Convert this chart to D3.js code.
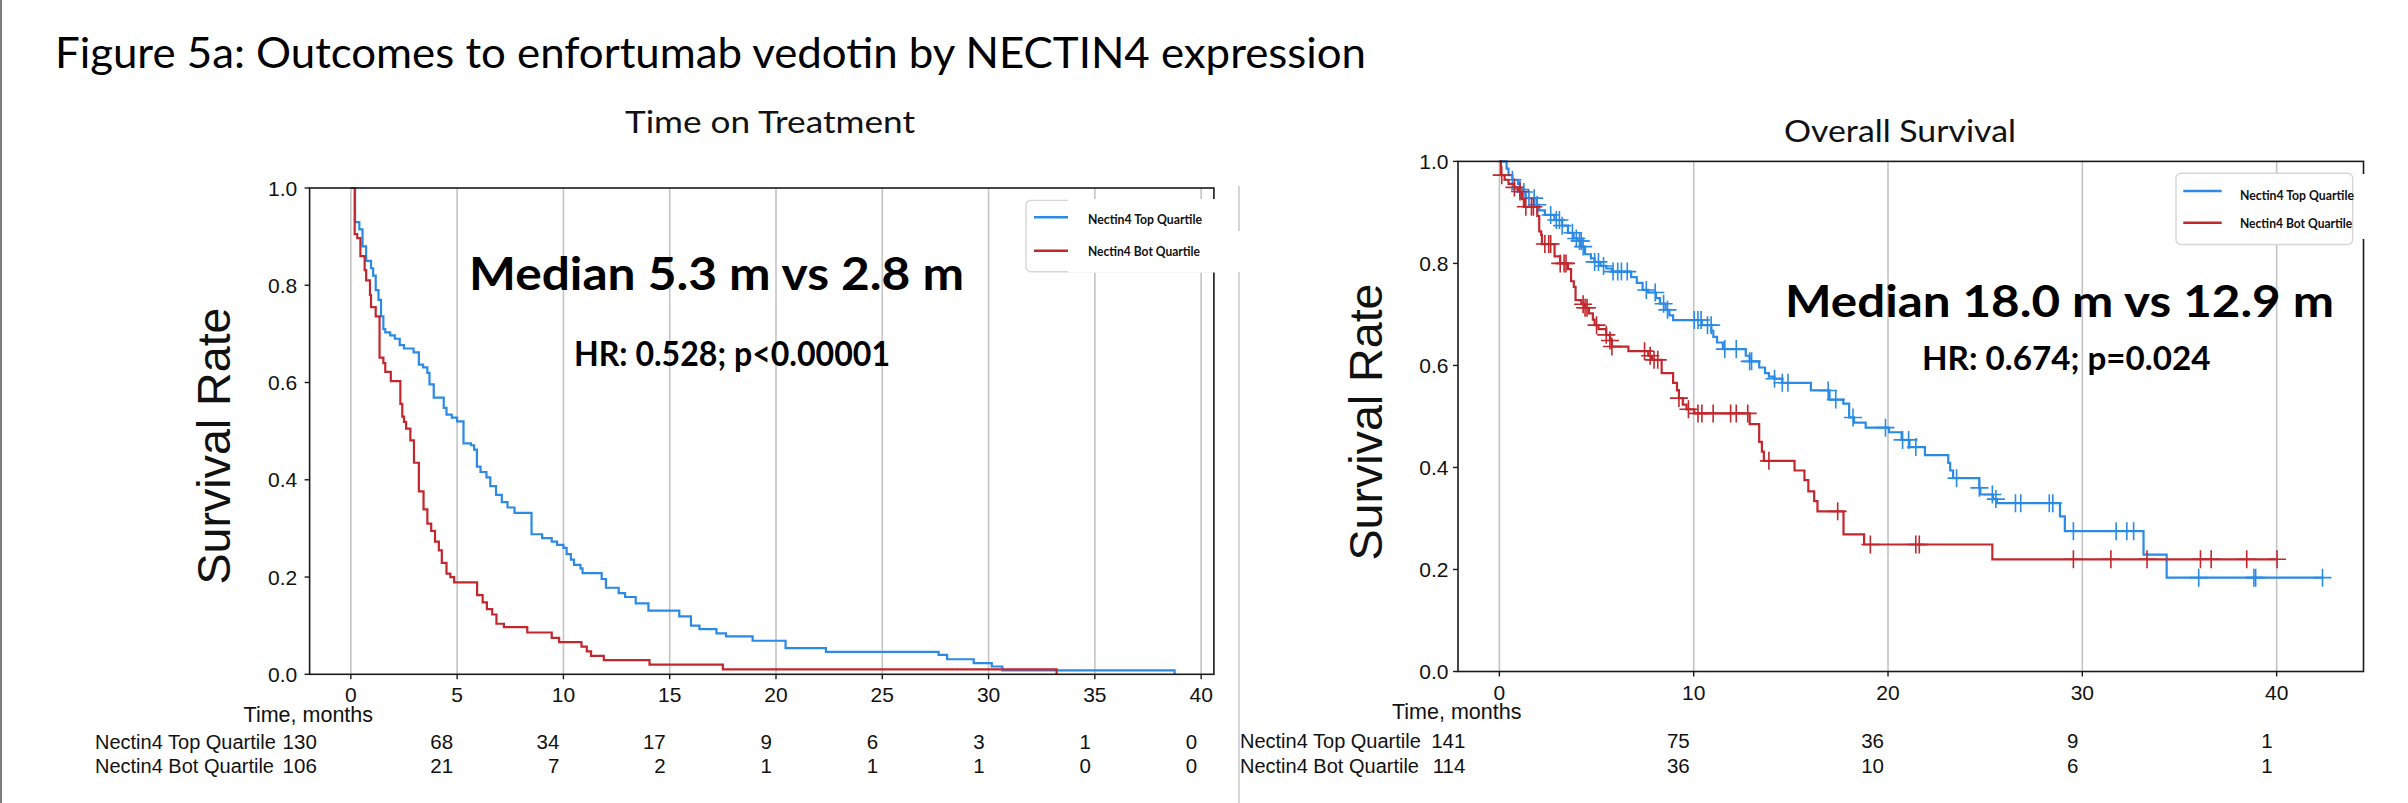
<!DOCTYPE html>
<html><head><meta charset="utf-8">
<script src="https://cdn.jsdelivr.net/npm/d3@7"></script>
<style>body{margin:0;background:#fff}svg{display:block}</style>
</head><body>
<svg id="c" width="2408" height="803"></svg>
<script>
// ---------------- DATA ----------------
const seriesNames = ["Nectin4 Top Quartile", "Nectin4 Bot Quartile"];
const yTicks = [0, 0.2, 0.4, 0.6, 0.8, 1.0];

// Time on Treatment
const totTicks = [0, 5, 10, 15, 20, 25, 30, 35, 40];
const totTopRisk = [130, 68, 34, 17, 9, 6, 3, 1, 0];
const totBotRisk = [106, 21, 7, 2, 1, 1, 1, 0, 0];
const totTopT = [0.2,0.4,0.55,0.72,0.95,1.05,1.17,1.3,1.42,1.53,1.62,1.85,2.07,2.3,2.5,2.95,3.2,3.4,3.6,3.7,3.9,4.37,4.5,4.75,5.0,5.3,5.65,5.8,5.93,6.1,6.38,6.56,6.83,7.1,7.37,7.7,8.5,9.0,9.45,9.7,10.0,10.15,10.35,10.5,10.8,10.9,11.8,12.0,12.6,12.9,13.4,14.0,15.45,16.0,16.4,17.2,17.65,18.9,20.45,22.35,27.65,28.05,29.3,30.15,30.65,38.75];
const totTopS = [0.93,0.915,0.88,0.85,0.835,0.82,0.79,0.77,0.736,0.71,0.703,0.697,0.69,0.677,0.67,0.662,0.637,0.631,0.62,0.596,0.569,0.548,0.534,0.528,0.52,0.475,0.471,0.462,0.427,0.416,0.405,0.387,0.369,0.354,0.343,0.332,0.288,0.28,0.273,0.266,0.26,0.247,0.236,0.225,0.218,0.208,0.196,0.178,0.167,0.159,0.146,0.131,0.119,0.1,0.093,0.084,0.078,0.069,0.054,0.046,0.04,0.031,0.023,0.016,0.008,0.0];
const totBotT = [0.18,0.3,0.45,0.65,0.72,0.9,0.95,1.17,1.35,1.53,1.62,1.88,2.33,2.42,2.5,2.6,2.8,2.97,3.2,3.42,3.6,3.78,3.96,4.14,4.28,4.5,4.68,4.86,5.94,6.2,6.4,6.65,6.85,7.2,8.3,9.45,9.8,10.85,11.1,11.3,11.9,14.05,17.5,33.2];
const totBotS = [0.905,0.897,0.86,0.831,0.81,0.78,0.755,0.736,0.651,0.64,0.622,0.603,0.556,0.53,0.519,0.505,0.481,0.435,0.376,0.339,0.31,0.295,0.273,0.255,0.229,0.207,0.2,0.189,0.163,0.148,0.134,0.123,0.104,0.097,0.086,0.075,0.066,0.057,0.047,0.038,0.029,0.02,0.01,0.0];
const totTopEnd = 38.75, totBotEnd = 33.2;

// Overall Survival
const osTicks = [0, 10, 20, 30, 40];
const osTopRisk = [141, 75, 36, 9, 1];
const osBotRisk = [114, 36, 10, 6, 1];
const osTopT = [0.37,0.47,0.67,0.96,1.06,1.26,1.36,1.91,2.05,2.34,2.83,3.23,3.53,3.82,4.02,4.22,4.41,4.71,4.9,5.2,5.5,5.79,6.78,7.07,7.37,7.66,8.06,8.26,8.55,8.75,8.94,10.42,10.91,11.01,11.2,11.5,12.68,12.88,13.37,13.67,13.87,14.16,14.56,16.03,16.99,17.7,18.0,18.25,18.85,20.05,20.7,21.1,21.9,23.1,23.2,23.35,24.7,24.75,25.4,25.6,28.85,29.1,33.15,34.34];
const osTopS = [0.986,0.973,0.964,0.956,0.945,0.94,0.928,0.915,0.904,0.895,0.885,0.874,0.86,0.849,0.844,0.833,0.818,0.81,0.803,0.795,0.79,0.784,0.773,0.762,0.748,0.743,0.732,0.721,0.709,0.698,0.689,0.679,0.668,0.656,0.645,0.632,0.619,0.608,0.596,0.585,0.578,0.574,0.566,0.551,0.533,0.525,0.498,0.488,0.478,0.469,0.454,0.44,0.424,0.409,0.394,0.379,0.36,0.347,0.338,0.33,0.304,0.275,0.229,0.184];
const osTopCensor = [0.67,1.06,1.26,1.52,1.79,1.95,2.64,2.93,3.09,3.23,3.76,3.96,4.12,4.21,4.31,4.9,5.1,5.36,5.85,6.09,6.28,6.58,7.56,8.02,8.45,8.65,10.03,10.22,10.38,10.71,10.9,11.6,12.19,12.88,12.98,14.16,14.56,14.85,16.92,17.31,18.2,19.87,20.75,21.06,21.43,23.53,24.7,25.37,25.55,26.56,26.83,28.3,28.48,29.54,31.74,32.29,32.64,35.99,38.83,38.92,42.36];
const osBotT = [0.08,0.27,0.47,0.77,0.96,1.16,1.26,1.95,2.05,2.15,2.19,2.84,3.13,3.53,3.69,3.83,3.92,4.22,4.41,4.61,4.81,4.9,5.1,5.5,5.69,5.79,6.64,7.66,7.86,8.35,8.94,9.14,9.24,9.44,9.63,10.03,12.88,13.37,13.51,13.61,15.19,15.7,15.9,16.2,16.37,17.71,18.77,25.37];
const osBotS = [0.973,0.964,0.956,0.949,0.941,0.926,0.911,0.893,0.863,0.856,0.838,0.814,0.8,0.789,0.765,0.754,0.728,0.72,0.713,0.702,0.69,0.679,0.671,0.66,0.649,0.637,0.628,0.619,0.611,0.585,0.566,0.551,0.536,0.523,0.514,0.506,0.485,0.45,0.431,0.413,0.394,0.375,0.353,0.334,0.314,0.269,0.249,0.22];
const osBotCensor = [0.12,0.77,1.06,1.36,1.65,1.75,2.34,2.54,2.64,3.13,3.33,3.43,4.31,4.41,4.51,5.0,5.5,5.69,5.79,7.47,7.76,7.96,8.15,9.24,9.73,10.22,10.42,11.0,11.9,12.19,12.78,13.87,17.41,19.09,21.43,21.61,29.54,31.47,33.33,36.08,36.63,38.46,40.02];
const osTopEnd = 42.4, osBotEnd = 40.02;

// ---------------- DRAW ----------------
const BLUE = "#2a8ae6", RED = "#c1272d";
const svg = d3.select("#c");
svg.append("rect").attr("width", 2408).attr("height", 803).attr("fill", "#fff");

function survAt(T, S, t) {
  let s = 1;
  for (let i = 0; i < T.length; i++) { if (T[i] <= t) s = S[i]; else break; }
  return s;
}
function stepPoints(T, S, end) {
  const pts = [[0, 1]];
  T.forEach((t, i) => pts.push([t, S[i]]));
  pts.push([end, S[S.length - 1]]);
  return pts;
}

function panel(cfg) {
  const g = svg.append("g");
  const x = d3.scaleLinear().domain(cfg.xDom).range([cfg.left, cfg.right]);
  const y = d3.scaleLinear().domain([0, 1]).range([cfg.bottom, cfg.top]);

  // gridlines
  g.selectAll(".grid").data(cfg.ticks).join("line")
    .attr("x1", d => x(d)).attr("x2", d => x(d))
    .attr("y1", cfg.top).attr("y2", cfg.bottom)
    .attr("stroke", "#c4c4c4").attr("stroke-width", 1.6);

  // curves
  const line = d3.line().x(d => x(d[0])).y(d => y(d[1])).curve(d3.curveStepAfter);
  cfg.curves.forEach(c => {
    g.append("path").attr("d", line(stepPoints(c.T, c.S, c.end)))
      .attr("fill", "none").attr("stroke", c.color).attr("stroke-width", 2.2);
    if (c.censor) {
      const m = 9;
      g.append("g").selectAll("path").data(c.censor).join("path")
        .attr("d", d => {
          const cx = x(d), cy = y(survAt(c.T, c.S, d));
          return `M${cx - m},${cy}H${cx + m}M${cx},${cy - m}V${cy + m}`;
        })
        .attr("stroke", c.color).attr("stroke-width", 1.6).attr("fill", "none");
    }
  });

  // spines
  g.append("rect").attr("x", cfg.left).attr("y", cfg.top)
    .attr("width", cfg.right - cfg.left).attr("height", cfg.bottom - cfg.top)
    .attr("fill", "none").attr("stroke", "#1a1a1a").attr("stroke-width", 1.6);

  // y ticks
  yTicks.forEach(v => {
    g.append("line").attr("x1", cfg.left - 5).attr("x2", cfg.left)
      .attr("y1", y(v)).attr("y2", y(v)).attr("stroke", "#1a1a1a").attr("stroke-width", 1.4);
    g.append("text").attr("x", cfg.left - cfg.yLabGap).attr("y", y(v)).attr("dy", "0.36em")
      .attr("text-anchor", "end").attr("font-family", "Liberation Sans, Arial, sans-serif")
      .attr("font-size", 21).attr("fill", "#111").text(d3.format(".1f")(v));
  });
  // x ticks
  cfg.ticks.forEach(v => {
    g.append("line").attr("x1", x(v)).attr("x2", x(v))
      .attr("y1", cfg.bottom).attr("y2", cfg.bottom + 5).attr("stroke", "#1a1a1a").attr("stroke-width", 1.4);
    g.append("text").attr("x", x(v)).attr("y", cfg.xLabY)
      .attr("text-anchor", "middle").attr("font-family", "Liberation Sans, Arial, sans-serif")
      .attr("font-size", 21).attr("fill", "#111").text(v);
  });
  g.append("text").attr("x", cfg.left - 66).attr("y", cfg.xTitleY)
    .attr("font-family", "Liberation Sans, Arial, sans-serif").attr("font-size", 21.5)
    .attr("fill", "#111").text("Time, months");

  // y label
  g.append("text").attr("transform", `translate(${cfg.yTitleX},${cfg.yTitleY}) rotate(-90)`)
    .attr("text-anchor", "middle").attr("font-family", "Liberation Sans, Arial, sans-serif")
    .attr("font-size", 47).attr("textLength", 277).attr("lengthAdjust", "spacingAndGlyphs")
    .attr("fill", "#111").text("Survival Rate");

  // panel title
  g.append("text").attr("x", cfg.titleX).attr("y", cfg.titleY)
    .attr("font-family", "Lato, sans-serif").attr("font-size", 30)
    .attr("textLength", cfg.titleW).attr("lengthAdjust", "spacingAndGlyphs")
    .attr("fill", "#111").text(cfg.title);

  // at-risk table
  cfg.risk.forEach((r, ri) => {
    g.append("text").attr("x", cfg.riskLabelX).attr("y", cfg.riskY[ri])
      .attr("font-family", "Liberation Sans, Arial, sans-serif").attr("font-size", 20)
      .attr("fill", "#111").text(seriesNames[ri]);
    r.forEach((n, i) => {
      const t = cfg.ticks[i];
      g.append("text").attr("x", x(t) - (i === 0 ? 34 : 4)).attr("y", cfg.riskY[ri])
        .attr("text-anchor", "end").attr("font-family", "Liberation Sans, Arial, sans-serif")
        .attr("font-size", 20.5).attr("fill", "#111").text(n);
    });
  });

  // annotations
  g.append("text").attr("x", cfg.medX).attr("y", cfg.medY)
    .attr("font-family", "Lato, sans-serif").attr("font-weight", 700)
    .attr("font-size", cfg.medSize).attr("textLength", cfg.medW).attr("lengthAdjust", "spacingAndGlyphs")
    .attr("fill", "#000").text(cfg.medText);
  g.append("text").attr("x", cfg.hrX).attr("y", cfg.hrY)
    .attr("font-family", "Lato, sans-serif").attr("font-weight", 700)
    .attr("font-size", cfg.hrSize).attr("textLength", cfg.hrW).attr("lengthAdjust", "spacingAndGlyphs")
    .attr("fill", "#000").text(cfg.hrText);
  return g;
}

// left edge line and separator
svg.append("rect").attr("x", 0).attr("y", 0).attr("width", 2).attr("height", 803).attr("fill", "#7d7d7d");
svg.append("line").attr("x1", 1239).attr("x2", 1239).attr("y1", 186).attr("y2", 803)
  .attr("stroke", "#c8c8c8").attr("stroke-width", 1.5);

const L = panel({
  left: 309.6, right: 1213.9, top: 188, bottom: 674.3, xDom: [-1.94, 40.6],
  ticks: totTicks, yLabGap: 12.3, xLabY: 702, xTitleY: 722,
  yTitleX: 230, yTitleY: 446,
  title: "Time on Treatment", titleX: 625, titleY: 133, titleW: 290,
  risk: [totTopRisk, totBotRisk], riskLabelX: 95, riskY: [749, 773],
  curves: [
    {T: totTopT, S: totTopS, end: totTopEnd, color: BLUE},
    {T: totBotT, S: totBotS, end: totBotEnd, color: RED}
  ],
  medText: "Median 5.3 m vs 2.8 m", medX: 469, medY: 290, medSize: 46, medW: 495,
  hrText: "HR: 0.528; p<0.00001", hrX: 574, hrY: 366, hrSize: 35, hrW: 316
});

const R = panel({
  left: 1458, right: 2363.5, top: 161.4, bottom: 671.5, xDom: [-2.13, 44.47],
  ticks: osTicks, yLabGap: 9.5, xLabY: 700, xTitleY: 719,
  yTitleX: 1382, yTitleY: 422,
  title: "Overall Survival", titleX: 1784, titleY: 141.5, titleW: 232,
  risk: [osTopRisk, osBotRisk], riskLabelX: 1240, riskY: [748, 772.5],
  curves: [
    {T: osTopT, S: osTopS, end: osTopEnd, color: BLUE, censor: osTopCensor},
    {T: osBotT, S: osBotS, end: osBotEnd, color: RED, censor: osBotCensor}
  ],
  medText: "Median 18.0 m vs 12.9 m", medX: 1785, medY: 317, medSize: 44, medW: 549,
  hrText: "HR: 0.674; p=0.024", hrX: 1922, hrY: 370, hrSize: 32.5, hrW: 288.5
});

// legends
function legend(o) {
  const g = svg.append("g");
  if (o.cover) o.cover.forEach(c => g.append("rect").attr("x", c[0]).attr("y", c[1])
    .attr("width", c[2]).attr("height", c[3]).attr("fill", "#fff"));
  g.append("rect").attr("x", o.x).attr("y", o.y).attr("width", o.w).attr("height", o.h)
    .attr("rx", 5).attr("fill", "#fff").attr("stroke", "#d6d6d6").attr("stroke-width", 1.4);
  if (o.cover2) o.cover2.forEach(c => g.append("rect").attr("x", c[0]).attr("y", c[1])
    .attr("width", c[2]).attr("height", c[3]).attr("fill", "#fff"));
  [BLUE, RED].forEach((col, i) => {
    g.append("line").attr("x1", o.lx1).attr("x2", o.lx2).attr("y1", o.ly[i]).attr("y2", o.ly[i])
      .attr("stroke", col).attr("stroke-width", 2.4);
    g.append("text").attr("x", o.tx).attr("y", o.ty[i]).attr("font-family", "Lato, sans-serif")
      .attr("font-weight", 700).attr("font-size", 13).attr("textLength", o.tw[i])
      .attr("lengthAdjust", "spacingAndGlyphs").attr("fill", "#111").text(seriesNames[i]);
  });
}
legend({
  x: 1026, y: 200.4, w: 187, h: 71.4,
  cover2: [[1068, 199, 157, 73.5], [1232, 231, 14, 41]],
  lx1: 1034, lx2: 1068, ly: [217.3, 250.7], tx: 1088, ty: [223.7, 255.7], tw: [114, 112]
});
legend({
  x: 2176, y: 173.3, w: 176.7, h: 71.2,
  cover: [[2356, 174, 12, 65]],
  lx1: 2183.3, lx2: 2221.7, ly: [191, 222.7], tx: 2240, ty: [199.7, 228], tw: [114, 112.3]
});

// main title
svg.append("text").attr("x", 55).attr("y", 68).attr("font-family", "Lato, sans-serif")
  .attr("font-size", 42).attr("textLength", 1311).attr("lengthAdjust", "spacingAndGlyphs")
  .attr("fill", "#000").text("Figure 5a: Outcomes to enfortumab vedotin by NECTIN4 expression");
</script>
</body></html>
